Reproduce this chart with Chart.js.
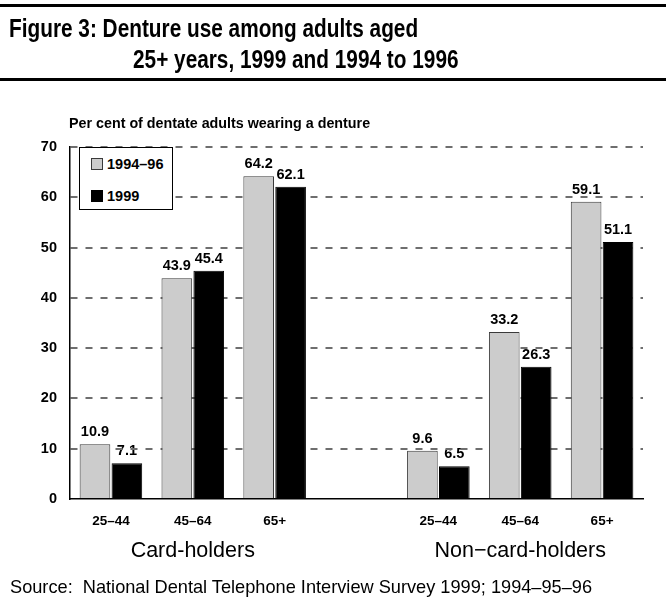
<!DOCTYPE html>
<html><head><meta charset="utf-8">
<script src="https://cdn.jsdelivr.net/npm/chart.js@4.4.1/dist/chart.umd.min.js"></script>
<style>
html,body{margin:0;padding:0;background:#fff;}
#wrap{position:relative;width:666px;height:613px;overflow:hidden;font-family:"Liberation Sans",Arial,Helvetica,sans-serif;color:#000;}
canvas{position:absolute;left:0;top:0;}
.rule{position:absolute;left:0;width:666px;height:3px;background:#000;}
.t{position:absolute;white-space:nowrap;font-weight:bold;font-size:26px;line-height:26px;transform:scaleX(0.8);transform-origin:0 0;}
.txt{position:absolute;white-space:nowrap;}
#legend{position:absolute;left:79px;top:147px;width:94px;height:63px;box-sizing:border-box;border:1px solid #000;background:#fff;}
.li{position:absolute;left:11px;white-space:nowrap;font-weight:bold;font-size:14.5px;line-height:14.5px;}
.sw{display:inline-block;width:10px;height:10px;margin-right:4px;vertical-align:-1px;}
</style></head>
<body>
<div id="wrap">
  <canvas id="c" width="666" height="613"></canvas>
  <div class="rule" style="top:4px"></div>
  <div class="rule" style="top:78px"></div>
  <div class="t" style="left:9px;top:15px">Figure 3: Denture use among adults aged</div>
  <div class="t" style="left:133px;top:46px">25+ years, 1999 and 1994 to 1996</div>
  <div class="txt" style="left:69px;top:116px;font-weight:bold;font-size:14.3px;line-height:14.3px">Per cent of dentate adults wearing a denture</div>
  <div id="legend"></div>
  <div id="g0" class="txt" style="top:540px;font-size:21.5px;line-height:21.5px;transform:translateX(-50%)"></div>
  <div id="g1" class="txt" style="top:540px;font-size:21.5px;line-height:21.5px;transform:translateX(-50%)"></div>
  <div class="txt" style="left:10px;top:577.6px;font-size:18.2px;line-height:18.2px">Source:&nbsp; National Dental Telephone Interview Survey 1999; 1994–95–96</div>
</div>
<script>
const categories = ['25–44', '45–64', '65+', '', '25–44', '45–64', '65+'];
const groupLabels = ['Card-holders', 'Non−card-holders'];
const groupRanges = [[0, 2], [4, 6]];
const seriesLabels = ['1994–96', '1999'];
const values1994to96 = [10.9, 43.9, 64.2, null, 9.6, 33.2, 59.1];
const values1999 = [7.1, 45.4, 62.1, null, 6.5, 26.3, 51.1];
const yTickValues = [0, 10, 20, 30, 40, 50, 60, 70];

const fills = ['#cccccc', '#000000'];
const edges = ['#3a3a3a', '#000000'];

const labelPlugin = {
  id: 'barLabels',
  beforeDraw(chart) {
    const ctx = chart.ctx;
    ctx.save();
    ctx.font = 'bold 14.5px "Liberation Sans", Arial, sans-serif';
    ctx.fillStyle = '#000';
    ctx.textAlign = 'center';
    ctx.textBaseline = 'alphabetic';
    chart.data.datasets.forEach((ds, di) => {
      const meta = chart.getDatasetMeta(di);
      meta.data.forEach((el, i) => {
        const v = ds.data[i];
        if (v === null || v === undefined) return;
        ctx.fillText(v.toFixed(1), el.x, el.y - 8);
      });
    });
    ctx.restore();
  }
};

const chart = new Chart(document.getElementById('c'), {
  type: 'bar',
  data: {
    labels: categories,
    datasets: [
      { label: seriesLabels[0], data: values1994to96, backgroundColor: fills[0], borderColor: edges[0], borderWidth: 1, borderSkipped: 'bottom' },
      { label: seriesLabels[1], data: values1999, backgroundColor: fills[1], borderColor: edges[1], borderWidth: 1, borderSkipped: 'bottom' }
    ]
  },
  options: {
    responsive: false,
    animation: false,
    devicePixelRatio: 1,
    categoryPercentage: 0.78,
    barPercentage: 0.96,
    layout: { padding: { top: 147, right: 23, bottom: 0, left: 0 } },
    plugins: { legend: { display: false }, tooltip: { enabled: false }, title: { display: false } },
    scales: {
      x: {
        grid: { display: false, drawTicks: false },
        border: { display: true, color: '#000', width: 1.5 },
        ticks: { color: '#000', font: { family: '"Liberation Sans", Arial, sans-serif', size: 13.5, weight: 'bold' }, padding: 14, maxRotation: 0, autoSkip: false },
        afterFit(s) { s.height = 114; }
      },
      y: {
        min: 0, max: 70,
        afterBuildTicks(s) { s.ticks = yTickValues.map(v => ({ value: v })); },
        grid: { drawTicks: false, lineWidth: 2, color: c => (c.tick && c.tick.value === 0) ? 'rgba(0,0,0,0)' : '#6e6e6e' },
        border: { display: true, color: '#000', width: 1.5, dash: [7, 8] },
        ticks: { color: '#000', font: { family: '"Liberation Sans", Arial, sans-serif', size: 14.5, weight: 'bold' }, padding: 13 },
        afterFit(s) { s.width = 70; }
      }
    }
  },
  plugins: [labelPlugin]
});

// legend built from the series arrays
const lg = document.getElementById('legend');
seriesLabels.forEach((lab, i) => {
  const d = document.createElement('div');
  d.className = 'li';
  d.style.top = (i === 0 ? 9 : 41) + 'px';
  d.innerHTML = '<span class="sw" style="background:' + fills[i] + ';border:1px solid ' + edges[i] + '"></span>' + lab;
  lg.appendChild(d);
});

// group labels centred under their categories using the x scale
const xs = chart.scales.x;
groupLabels.forEach((g, i) => {
  const el = document.getElementById('g' + i);
  el.textContent = g;
  const cx = (xs.getPixelForValue(groupRanges[i][0]) + xs.getPixelForValue(groupRanges[i][1])) / 2;
  el.style.left = cx + 'px';
});
</script>
</body></html>
